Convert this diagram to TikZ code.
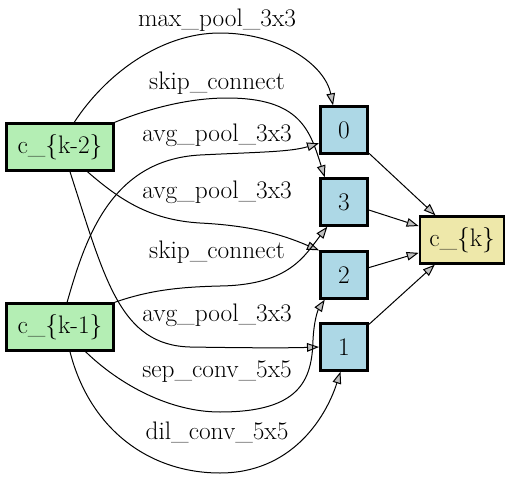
\documentclass[tikz,border=0pt]{standalone}
\usepackage{xcolor}
\usepackage{tikz}
\usetikzlibrary{arrows.meta}

\definecolor{inputgreen}{HTML}{B4EEB4}
\definecolor{nodeblue}{HTML}{ADD8E6}
\definecolor{outputgold}{HTML}{EEE8AA}
\definecolor{tipgray}{HTML}{C0C0C0}

\begin{document}
\begin{tikzpicture}[x=0.75pt, y=-0.75pt,
    cellin/.style={draw, line width=2pt, fill=inputgreen, minimum width=80pt, minimum height=35pt, inner sep=0pt, font=\rmfamily\fontsize{19}{23}\selectfont},
    op/.style={draw, line width=2pt, fill=nodeblue, minimum width=35.5pt, minimum height=35pt, inner sep=0pt, font=\rmfamily\fontsize{19}{23}\selectfont},
    cellout/.style={draw, line width=2pt, fill=outputgold, minimum width=63pt, minimum height=35pt, inner sep=0pt, font=\rmfamily\fontsize{19}{23}\selectfont},
    edge/.style={line width=0.75pt, -{Triangle[length=9pt, width=6.5pt, fill=tipgray]}},
    oplabel/.style={inner sep=0pt, font=\rmfamily\fontsize{19}{23}\selectfont}]
    \useasboundingbox (0,0) rectangle (512,479);

    % Inputs
    \node[cellin] (k2) at (60,147) {c\_\{k-2\}};
    \node[cellin] (k1) at (60,327) {c\_\{k-1\}};

    % Intermediate nodes
    \foreach \i/\y in {0/130, 3/202, 2/275, 1/347} \node[op] (n\i) at (344,\y) {\i};

    % Output
    \node[cellout] (ck) at (462,240) {c\_\{k\}};

    % Operations
    \draw[edge] (k2.60) .. controls (105,75) and (160,33) .. (220,33) .. controls (280,33) and (325,65) .. (n0.114);
    \draw[edge] (k2.north east) .. controls (150,108) and (190,98) .. (227,98) .. controls (300,98) and (310,130) .. (n3.128);
    \draw[edge] (k1.74) .. controls (85,240) and (110,160) .. (200,155) .. controls (260,152) and (290,152) .. (n0.208);
    \draw[edge] (k2.-42) .. controls (120,200) and (150,220) .. (200,223) .. controls (260,226) and (290,238) .. (n2.north west);
    \draw[edge] (k1.north east) .. controls (150,290) and (180,287) .. (220,286) .. controls (290,285) and (305,255) .. (n3.236);
    \draw[edge] (k2.-68) .. controls (105,280) and (120,345) .. (190,347) .. controls (250,348) and (290,348) .. (n1.west);
    \draw[edge] (k1.-44) .. controls (120,385) and (170,412) .. (220,412) .. controls (300,412) and (312,380) .. (313,340) .. controls (314,320) and (318,310) .. (n2.232);
    \draw[edge] (k1.-68) .. controls (90,430) and (150,473) .. (220,473) .. controls (290,473) and (325,420) .. (n1.262);

    % Operation labels
    \foreach \y/\t in {20/max\_pool\_3x3, 83/skip\_connect, 135/avg\_pool\_3x3, 192/avg\_pool\_3x3, 252/skip\_connect, 315/avg\_pool\_3x3, 372/sep\_conv\_5x5, 432/dil\_conv\_5x5}
        \node[oplabel] at (217,\y) {\t};

    % To output
    \foreach \n in {n0, n3, n2, n1} \draw[edge] (\n) -- (ck);
\end{tikzpicture}
\end{document}
